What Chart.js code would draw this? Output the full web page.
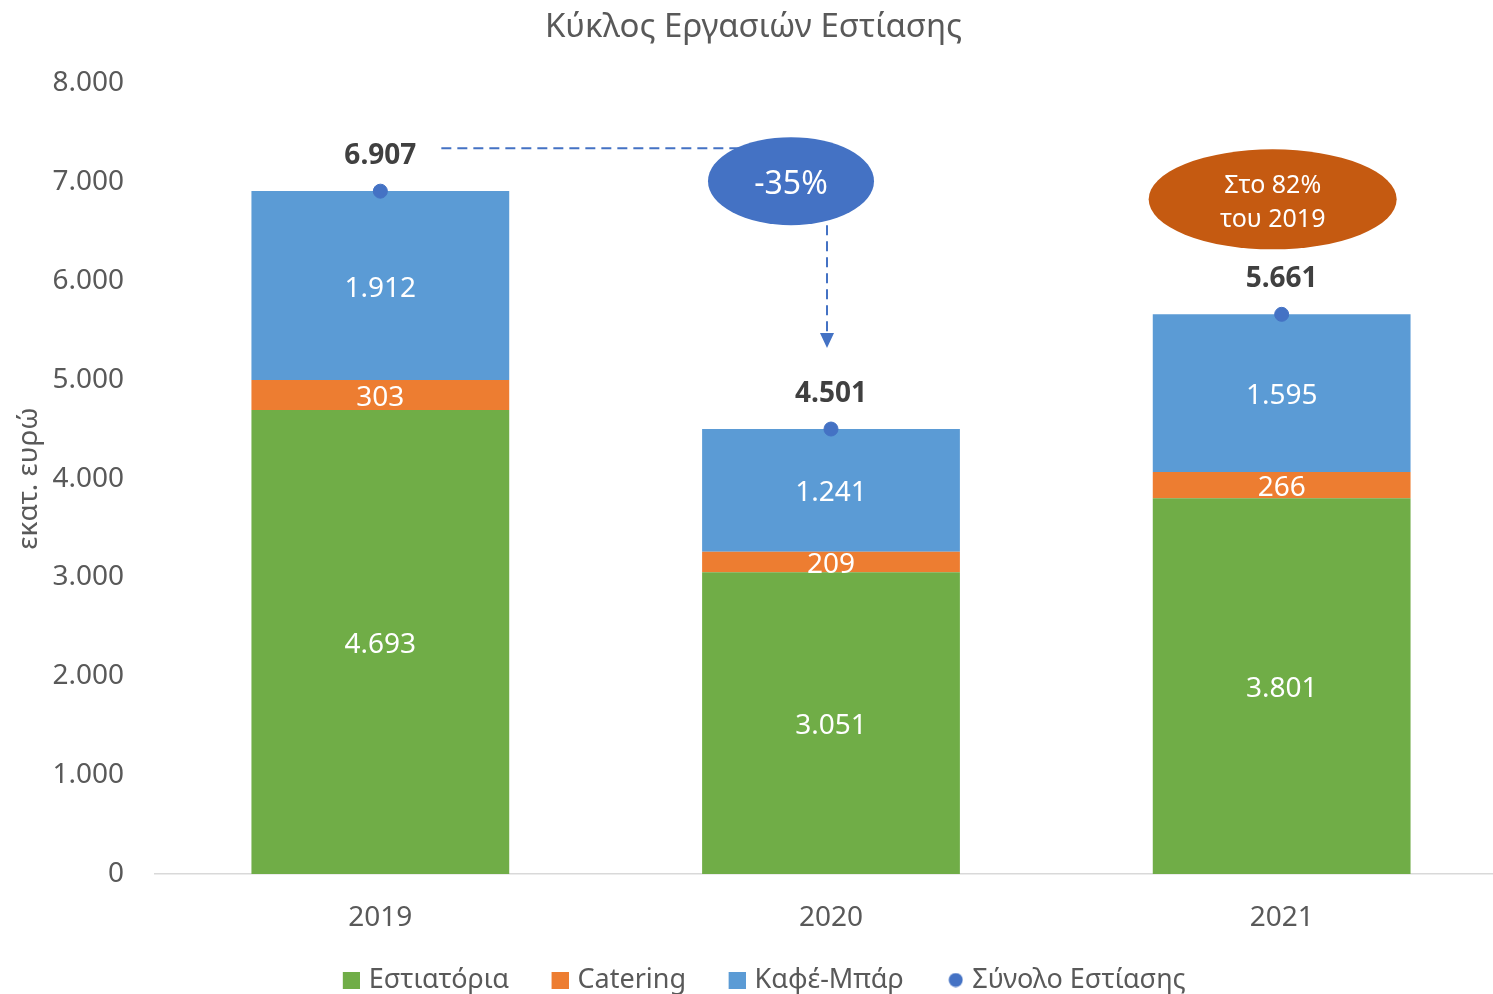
<!DOCTYPE html>
<html>
<head>
<meta charset="utf-8">
<script src="https://cdn.jsdelivr.net/npm/chart.js@4"></script>
<style>
  html, body { margin: 0; padding: 0; background: #fff; overflow: hidden; }
  canvas { display: block; }
</style>
</head>
<body>
<canvas id="chart" width="1507" height="994"></canvas>
<script>
// --- Data ---
const years = ['2019', '2020', '2021'];
const restaurants = [4693, 3051, 3801];   // Εστιατόρια
const catering = [303, 209, 266];         // Catering
const cafeBar = [1912, 1241, 1595];       // Καφέ-Μπάρ
const totals = [6907, 4501, 5661];        // Σύνολο Εστίασης
const yMax = 8000;
const yStep = 1000;

const FONT = '"Noto Sans", "Open Sans", sans-serif';
const TEXT = '#595959';
const GREEN = '#70AD47', ORANGE = '#ED7D31', LIGHTBLUE = '#5B9BD5', BLUE = '#4472C4', RUST = '#C55A11';

// thousands with a dot, like 6.907
const fmt = (n) => String(n).replace(/\B(?=(\d{3})+(?!\d))/g, '.');

// legend markers: the marker sits at the right end of a transparent strip,
// so it keeps a wide gap to the previous item and a small one to its own text
const MARK_W = 34;
function square(color) {
    const c = document.createElement('canvas');
    c.width = MARK_W + 9; c.height = 17;
    const g = c.getContext('2d');
    g.fillStyle = color; g.fillRect(c.width - 17, 0, 17, 17);
    return c;
}
function dot(color) {
    const c = document.createElement('canvas');
    c.width = MARK_W + 9; c.height = 15;
    const g = c.getContext('2d');
    g.fillStyle = color; g.beginPath(); g.arc(c.width - 7.5, 7.5, 7, 0, Math.PI * 2); g.fill();
    return c;
}

// --- value labels inside the bars and above the totals ---
const valueLabels = {
    id: 'valueLabels',
    afterDatasetsDraw(chart) {
        const ctx = chart.ctx;
        ctx.save();
        ctx.textAlign = 'center';
        ctx.textBaseline = 'middle';
        chart.data.datasets.forEach((ds, i) => {
            const meta = chart.getDatasetMeta(i);
            if (meta.type === 'bar') {
                ctx.font = '28px ' + FONT;
                ctx.fillStyle = '#ffffff';
                meta.data.forEach((el, j) => {
                    ctx.fillText(fmt(ds.data[j]), el.x, (el.y + el.base) / 2 + 3);
                });
            } else {
                ctx.font = 'bold 28px ' + FONT;
                ctx.fillStyle = '#404040';
                meta.data.forEach((el, j) => {
                    ctx.fillText(fmt(ds.data[j]), el.x, el.y - 35);
                });
            }
        });
        ctx.restore();
    }
};

// --- the callouts: -35% and "Στο 82% του 2019" ---
const callouts = {
    id: 'callouts',
    afterDraw(chart) {
        const ctx = chart.ctx;
        const xs = chart.scales.x, ys = chart.scales.y;
        const x0 = xs.getPixelForValue(0), x1 = xs.getPixelForValue(1), x2 = xs.getPixelForValue(2);
        const p0 = ys.getPixelForValue(totals[0]);
        const p1 = ys.getPixelForValue(totals[1]);
        const p2 = ys.getPixelForValue(totals[2]);
        const drop = Math.round((totals[1] / totals[0] - 1) * 100);
        const share = Math.round(totals[2] / totals[0] * 100);

        ctx.save();
        // dashed line from the 2019 total to the ellipse
        ctx.strokeStyle = BLUE;
        ctx.lineWidth = 2;
        ctx.setLineDash([10, 6]);
        const lineY = p0 - 43;
        ctx.beginPath();
        ctx.moveTo(x0 + 61, lineY);
        ctx.lineTo(x1 - 40, lineY);
        ctx.stroke();

        // arrow down to the 2020 total
        const ax = x1 - 4;
        const tipY = p1 - 81;
        ctx.beginPath();
        ctx.moveTo(ax, p0 + 34);
        ctx.lineTo(ax, tipY - 14);
        ctx.stroke();
        ctx.setLineDash([]);
        ctx.fillStyle = BLUE;
        ctx.beginPath();
        ctx.moveTo(ax - 7, tipY - 15);
        ctx.lineTo(ax + 7, tipY - 15);
        ctx.lineTo(ax, tipY);
        ctx.closePath();
        ctx.fill();

        // blue ellipse
        const ex = x1 - 40, ey = p0 - 10;
        ctx.beginPath();
        ctx.ellipse(ex, ey, 83, 44, 0, 0, Math.PI * 2);
        ctx.fill();
        ctx.fillStyle = '#ffffff';
        ctx.font = '32px ' + FONT;
        ctx.textAlign = 'center';
        ctx.textBaseline = 'middle';
        ctx.fillText(drop + '%', ex, ey + 4);

        // orange ellipse
        const ox = x2 - 9, oy = p2 - 115;
        ctx.fillStyle = RUST;
        ctx.beginPath();
        ctx.ellipse(ox, oy, 124, 50, 0, 0, Math.PI * 2);
        ctx.fill();
        ctx.fillStyle = '#ffffff';
        ctx.font = '25px ' + FONT;
        ctx.fillText('Στο ' + share + '%', ox, oy - 13);
        ctx.fillText('του ' + years[0], ox, oy + 21);
        ctx.restore();
    }
};

const ctx = document.getElementById('chart').getContext('2d');
new Chart(ctx, {
    data: {
        labels: years,
        datasets: [
            { type: 'bar', label: 'Εστιατόρια', data: restaurants, backgroundColor: GREEN, order: 1, pointStyle: square(GREEN) },
            { type: 'bar', label: 'Catering', data: catering, backgroundColor: ORANGE, order: 1, pointStyle: square(ORANGE) },
            { type: 'bar', label: 'Καφέ-Μπάρ', data: cafeBar, backgroundColor: LIGHTBLUE, order: 1, pointStyle: square(LIGHTBLUE) },
            {
                type: 'line', label: 'Σύνολο Εστίασης', data: totals, order: 0,
                showLine: false, pointRadius: 7, pointHoverRadius: 7,
                pointBackgroundColor: BLUE, pointBorderColor: BLUE, borderColor: BLUE, backgroundColor: BLUE
            }
        ]
    },
    options: {
        responsive: false,
        animation: false,
        datasets: { bar: { categoryPercentage: 1, barPercentage: 0.572 } },
        layout: { autoPadding: false, padding: { top: 0, left: 0, right: 0, bottom: -9.5 } },
        plugins: {
            title: {
                display: true,
                text: 'Κύκλος Εργασιών Εστίασης',
                color: TEXT,
                font: { family: FONT, size: 33, weight: 'normal' },
                padding: { top: 8, bottom: 35.5 }
            },
            legend: {
                position: 'bottom',
                labels: {
                    usePointStyle: true,
                    pointStyleWidth: MARK_W,
                    boxHeight: 18,
                    padding: 21,
                    color: TEXT,
                    font: { family: FONT, size: 27 },
                    sort: (a, b) => a.datasetIndex - b.datasetIndex,
                    generateLabels: (chart) => {
                        const items = Chart.defaults.plugins.legend.labels.generateLabels(chart);
                        return items.map(it => {
                            const ds = chart.data.datasets[it.datasetIndex];
                            it.pointStyle = ds.type === 'line' ? dot(BLUE) : ds.pointStyle;
                            return it;
                        });
                    }
                }
            },
            tooltip: { enabled: false }
        },
        scales: {
            x: {
                stacked: true,
                grid: { display: false, drawTicks: false },
                border: { color: '#D9D9D9', width: 1.5 },
                ticks: { color: TEXT, font: { family: FONT, size: 28 }, padding: 27 },
                afterFit: (s) => { s.height = 71.5; }
            },
            y: {
                stacked: true,
                min: 0,
                max: yMax,
                grid: { display: false, drawTicks: false },
                border: { display: false },
                ticks: {
                    stepSize: yStep,
                    color: TEXT,
                    font: { family: FONT, size: 28 },
                    padding: 31,
                    callback: (v) => fmt(v)
                },
                title: {
                    display: true,
                    text: 'εκατ. ευρώ',
                    color: TEXT,
                    font: { family: FONT, size: 28 },
                    padding: { top: 12, bottom: 0 }
                },
                afterFit: (s) => { s.width = 155; }
            }
        }
    },
    plugins: [valueLabels, callouts]
});
</script>
</body>
</html>
